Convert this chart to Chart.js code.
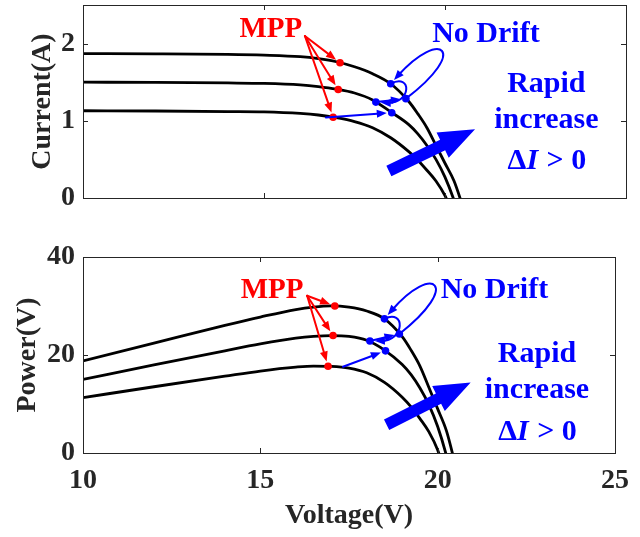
<!DOCTYPE html>
<html>
<head>
<meta charset="utf-8">
<script src="https://cdn.jsdelivr.net/npm/chart.js@4.4.0/dist/chart.umd.min.js"></script>
<style>
  body { margin: 0; background: #fff; }
  canvas { position: absolute; left: 0; }
  #ivChart { top: 0; }
  #pvChart { top: 230px; }
</style>
</head>
<body>
<canvas id="ivChart" width="640" height="230"></canvas>
<canvas id="pvChart" width="640" height="307"></canvas>
<script>
// voltage grid shared by the three curves (V)
var voltage = [10, 12, 14, 15, 16, 16.5, 17, 17.5, 18, 18.5, 19, 19.25, 19.5, 19.75, 20, 20.25, 20.5];

// I-V curves (A)
var currentHigh = [1.871, 1.868, 1.86, 1.85, 1.83, 1.805, 1.765, 1.70, 1.61, 1.48, 1.25, 1.09, 0.91, 0.68, 0.45, 0.22, -0.12];
var currentMid  = [1.50, 1.497, 1.49, 1.484, 1.465, 1.443, 1.41, 1.36, 1.27, 1.115, 0.95, 0.83, 0.68, 0.50, 0.27, -0.03, -0.40];
var currentLow  = [1.13, 1.127, 1.12, 1.115, 1.095, 1.075, 1.04, 0.99, 0.91, 0.78, 0.60, 0.49, 0.36, 0.22, 0.03, -0.25, -0.55];

// P-V curves
var powerHigh = [18.8, 22.42, 26.04, 27.75, 29.28, 29.78, 30.01, 29.75, 28.98, 27.38, 23.75, 20.98, 17.75, 13.43, 9.0, 4.46, -2.46];
var powerMid  = [15.0, 17.96, 20.86, 22.26, 23.44, 23.81, 23.97, 23.8, 23.0, 21.0, 18.05, 15.98, 13.26, 9.88, 5.4, -0.61, -8.2];
var powerLow  = [11.3, 13.52, 15.68, 16.73, 17.52, 17.74, 17.68, 17.33, 16.38, 14.43, 11.4, 9.43, 7.02, 4.35, 0.6, -5.06, -11.3];

// maximum power points (high, mid, low)
var mppVoltage = [17.1, 17.05, 16.91];
var mppCurrent = [1.752, 1.405, 1.046];
var mppPower   = [30.0, 23.97, 17.69];

// "no drift" operating points A, B, C, D
var driftVoltage = [18.5, 18.09, 18.92, 18.53];
var driftCurrent = [1.48, 1.242, 1.287, 1.105];
var driftPower   = [27.38, 22.85, 24.3, 20.85];

var serif = "'Liberation Serif', 'Times New Roman', serif";
var ink = '#262626';
var red = '#ff0000';
var blue = '#0000ff';

function points(xs, ys) {
  return xs.map(function(x, i) { return {x: x, y: ys[i]}; });
}

function curve(ys) {
  return {
    data: points(voltage, ys),
    borderColor: '#000',
    borderWidth: 2.8,
    pointRadius: 0,
    cubicInterpolationMode: 'monotone',
    fill: false,
    clip: 0,
    order: 1
  };
}

function dots(xs, ys, color) {
  return {
    data: points(xs, ys),
    showLine: false,
    pointRadius: 3.8,
    pointBackgroundColor: color,
    pointBorderWidth: 0,
    order: 0
  };
}

// ---- drawing helpers for the annotations ----
function head(ctx, fx, fy, tx, ty, len, half) {
  var a = Math.atan2(ty - fy, tx - fx);
  var c = Math.cos(a), s = Math.sin(a);
  ctx.beginPath();
  ctx.moveTo(tx, ty);
  ctx.lineTo(tx - len * c + half * s, ty - len * s - half * c);
  ctx.lineTo(tx - len * c - half * s, ty - len * s + half * c);
  ctx.closePath();
  ctx.fill();
}

function shortTo(p, q, gap) {
  var dx = q[0] - p[0], dy = q[1] - p[1], d = Math.hypot(dx, dy);
  return [q[0] - dx / d * gap, q[1] - dy / d * gap];
}

function arrow(ctx, p, q, gap) {
  var e = shortTo(p, q, gap);
  var m = shortTo(p, e, 6);
  ctx.beginPath();
  ctx.moveTo(p[0], p[1]);
  ctx.lineTo(m[0], m[1]);
  ctx.stroke();
  head(ctx, p[0], p[1], e[0], e[1], 10, 4);
}

function loop(ctx, p, c1, c2, q, gap) {
  var e = shortTo(c2, q, gap);
  var m = shortTo(c2, e, 6);
  ctx.beginPath();
  ctx.moveTo(p[0], p[1]);
  ctx.bezierCurveTo(c1[0], c1[1], c2[0], c2[1], m[0], m[1]);
  ctx.stroke();
  head(ctx, c2[0], c2[1], e[0], e[1], 10, 4);
}

function bigArrow(ctx, t, h) {
  var dx = h[0] - t[0], dy = h[1] - t[1], d = Math.hypot(dx, dy);
  var ux = dx / d, uy = dy / d, nx = -uy, ny = ux;
  var w = 5.8, hl = 36, hw = 14;
  var bx = h[0] - ux * hl, by = h[1] - uy * hl;
  ctx.beginPath();
  ctx.moveTo(t[0] + nx * w, t[1] + ny * w);
  ctx.lineTo(bx + nx * w, by + ny * w);
  ctx.lineTo(bx + nx * hw, by + ny * hw);
  ctx.lineTo(h[0], h[1]);
  ctx.lineTo(bx - nx * hw, by - ny * hw);
  ctx.lineTo(bx - nx * w, by - ny * w);
  ctx.lineTo(t[0] - nx * w, t[1] - ny * w);
  ctx.closePath();
  ctx.fill();
}

function deltaText(ctx, x, y) {
  var bold = 'bold 30px ' + serif, ital = 'italic bold 30px ' + serif;
  ctx.font = bold; var w1 = ctx.measureText('\u0394').width;
  ctx.font = ital; var w2 = ctx.measureText('I').width;
  ctx.font = bold; var w3 = ctx.measureText(' > 0').width;
  var x0 = x - (w1 + w2 + w3) / 2;
  ctx.textAlign = 'left';
  ctx.font = bold; ctx.fillText('\u0394', x0, y);
  ctx.font = ital; ctx.fillText('I', x0 + w1, y);
  ctx.font = bold; ctx.fillText(' > 0', x0 + w1 + w2 + 1, y);
}

// frame with inward ticks (MATLAB style box)
var frame = {
  id: 'frame',
  afterDraw: function(chart) {
    var ctx = chart.ctx, a = chart.chartArea, L = 5;
    ctx.save();
    ctx.strokeStyle = ink;
    ctx.lineWidth = 1;
    ctx.strokeRect(a.left + 0.5, a.top + 0.5, a.right - a.left, a.bottom - a.top);
    ctx.beginPath();
    chart.scales.x.ticks.forEach(function(t) {
      var x = Math.round(chart.scales.x.getPixelForValue(t.value)) + 0.5;
      ctx.moveTo(x, a.bottom); ctx.lineTo(x, a.bottom - L);
      ctx.moveTo(x, a.top); ctx.lineTo(x, a.top + L);
    });
    chart.scales.y.ticks.forEach(function(t) {
      var y = Math.round(chart.scales.y.getPixelForValue(t.value)) + 0.5;
      ctx.moveTo(a.left, y); ctx.lineTo(a.left + L, y);
      ctx.moveTo(a.right, y); ctx.lineTo(a.right - L, y);
    });
    ctx.stroke();
    ctx.restore();
  }
};

function notes(spec, dys) {
  return {
    id: 'notes',
    afterDatasetsDraw: function(chart) {
      var ctx = chart.ctx;
      function p(v) { return [chart.scales.x.getPixelForValue(v[0]), chart.scales.y.getPixelForValue(v[1])]; }
      function mpp(i) { return p([mppVoltage[i], dys.mpp[i]]); }
      function op(i) { return p([driftVoltage[i], dys.drift[i]]); }
      ctx.save();
      ctx.lineCap = 'round';
      ctx.textBaseline = 'alphabetic';
      ctx.textAlign = 'center';

      // red MPP arrows
      ctx.strokeStyle = red; ctx.fillStyle = red; ctx.lineWidth = 2;
      [0, 1, 2].forEach(function(i) { arrow(ctx, p(spec.redFrom), mpp(i), 5); });
      ctx.font = 'bold 29px ' + serif;
      var m = p(spec.mppLabel);
      ctx.fillText('MPP', m[0], m[1]);

      // blue "no drift" path
      ctx.strokeStyle = blue; ctx.fillStyle = blue; ctx.lineWidth = 2;
      arrow(ctx, p(spec.lowStart), op(3), 5);
      arrow(ctx, op(1), op(2), 5);
      loop(ctx, op(2), p(spec.bigLoop[0]), p(spec.bigLoop[1]), op(0), 5);
      loop(ctx, op(0), p(spec.smallLoop[0]), p(spec.smallLoop[1]), op(1), 5);
      ctx.font = 'bold 30px ' + serif;
      var n = p(spec.driftLabel);
      ctx.fillText('No Drift', n[0], n[1]);

      // rapid increase note
      bigArrow(ctx, p(spec.arrowTail), p(spec.arrowTip));
      var r1 = p(spec.rapid[0]), r2 = p(spec.rapid[1]), r3 = p(spec.rapid[2]);
      ctx.font = 'bold 30px ' + serif;
      ctx.fillText('Rapid', r1[0], r1[1]);
      ctx.fillText('increase', r2[0], r2[1]);
      deltaText(ctx, r3[0], r3[1]);
      ctx.restore();
    }
  };
}

function yAxis(max, step, title, titlePad) {
  return {
    type: 'linear', min: 0, max: max,
    afterFit: function(s) { s.width = 83; s.paddingTop = 0; s.paddingBottom = 0; },
    grid: {display: false, drawTicks: false},
    border: {display: false},
    ticks: {stepSize: step, includeBounds: false, padding: 8, color: ink,
            font: {family: serif, size: 28, weight: 'bold'}},
    title: {display: true, text: title, color: ink, padding: {top: titlePad, bottom: 0},
            font: {family: serif, size: 28, weight: 'bold'}}
  };
}

function xAxis(height, showLabels) {
  return {
    type: 'linear', min: 10, max: 25,
    afterFit: function(s) { s.height = height; },
    grid: {display: false, drawTicks: false},
    border: {display: false},
    ticks: {display: showLabels, stepSize: 5, padding: 11, color: ink, maxRotation: 0,
            font: {family: serif, size: 28, weight: 'bold'}},
    title: {display: showLabels, text: 'Voltage(V)', color: ink, padding: {top: 0, bottom: 4},
            font: {family: serif, size: 28, weight: 'bold'}}
  };
}

var common = {
  responsive: false,
  animation: false,
  plugins: {legend: {display: false}, tooltip: {enabled: false}}
};

new Chart(document.getElementById('ivChart'), {
  type: 'line',
  data: {datasets: [
    curve(currentHigh), curve(currentMid), curve(currentLow),
    dots(mppVoltage, mppCurrent, red),
    dots(driftVoltage, driftCurrent, blue)
  ]},
  options: Object.assign({}, common, {
    layout: {padding: {left: 0, right: 14, top: 5, bottom: 0}},
    scales: {x: xAxis(32, false), y: yAxis(2.5, 1, 'Current(A)', 26)}
  }),
  plugins: [frame, notes({
    mppLabel: [15.19, 2.08], redFrom: [16.13, 2.098],
    driftLabel: [21.13, 2.02],
    lowStart: [16.71, 1.044],
    bigLoop: [[20.7, 1.92], [19.87, 2.2]],
    smallLoop: [[19.09, 1.629], [19.09, 1.216]],
    arrowTail: [18.45, 0.35], arrowTip: [20.83, 0.889],
    rapid: [[22.8, 1.375], [22.8, 0.902], [22.8, 0.372]]
  }, {mpp: mppCurrent, drift: driftCurrent})]
});

new Chart(document.getElementById('pvChart'), {
  type: 'line',
  data: {datasets: [
    curve(powerHigh), curve(powerMid), curve(powerLow),
    dots(mppVoltage, mppPower, red),
    dots(driftVoltage, driftPower, blue)
  ]},
  options: Object.assign({}, common, {
    layout: {padding: {left: 0, right: 14, top: 27, bottom: 0}},
    scales: {x: xAxis(84, true), y: yAxis(40, 20, 'Power(V)', 11)}
  }),
  plugins: [frame, notes({
    mppLabel: [15.33, 31.6], redFrom: [16.32, 32.08],
    driftLabel: [21.6, 31.6],
    lowStart: [17.33, 17.6],
    bigLoop: [[20.7, 34.4], [19.87, 38.9]],
    smallLoop: [[19.09, 29.48], [19.09, 22.93]],
    arrowTail: [18.56, 5.77], arrowTip: [20.93, 14.41],
    rapid: [[22.8, 18.63], [22.8, 11.14], [22.8, 2.6]]
  }, {mpp: mppPower, drift: driftPower})]
});
</script>
</body>
</html>
